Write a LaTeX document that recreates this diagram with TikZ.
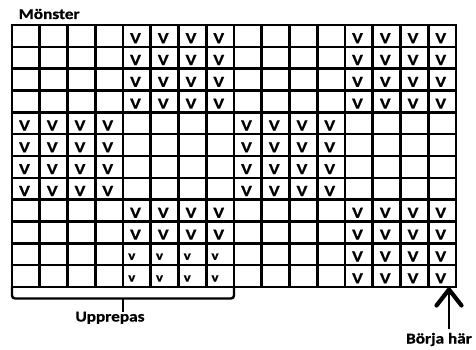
\documentclass[tikz,border=0pt]{standalone}
\usepackage{fontspec}
\setmainfont{Carlito}
\newfontfamily\heavyfont[FakeBold=0.7]{Carlito Bold}
\begin{document}
\begin{tikzpicture}[x=1pt,y=-1pt,
  gridline/.style={line width=2.6pt},
  lbl/.style={font=\fontsize{15}{15}\heavyfont, inner sep=0pt, xscale=1.15, transform shape},
  bigv/.style={font=\fontsize{15.5}{15}\heavyfont, inner sep=0pt, anchor=base, xscale=1.18, transform shape},
  smallv/.style={font=\fontsize{13}{13}\heavyfont, inner sep=0pt, anchor=base west, xscale=1.15, transform shape},
  bracestyle/.style={line width=2.4pt, rounded corners=3pt},
  arrowshaft/.style={line width=2.6pt},
  arrowhead/.style={line width=4.2pt, line cap=round, line join=round}]
\useasboundingbox (0,0) rectangle (476,350);
\def\cw{27.75}
\def\rh{21.83}
% grid lines
\foreach \c in {0,...,16} {
  \draw[gridline] ({12+\c*\cw},25) -- ({12+\c*\cw},{25+12*\rh});
}
\foreach \r in {0,...,12} {
  \draw[gridline] (10.7,{25+\r*\rh}) -- (457.3,{25+\r*\rh});
}
% V marks
\foreach \r in {1,...,12} {
  \foreach \c in {1,...,16} {
    \pgfmathtruncatemacro{\top}{(\r<=4 || \r>=9) ? 1 : 0}
    \pgfmathtruncatemacro{\inA}{(\c>=5 && \c<=8) || (\c>=13) ? 1 : 0}
    \pgfmathtruncatemacro{\inB}{(\c<=4) || (\c>=9 && \c<=12) ? 1 : 0}
    \pgfmathtruncatemacro{\small}{(\r>=11 && \c>=5 && \c<=8) ? 1 : 0}
    \pgfmathtruncatemacro{\big}{((\top==1 && \inA==1) || (\top==0 && \inB==1)) && \small==0 ? 1 : 0}
    \ifnum\big=1
      \node[bigv] (v\r-\c) at ({12+(\c-1)*\cw+12.5},{25+(\r-1)*\rh+18.2}) {V};
    \fi
    \ifnum\small=1
      \node[smallv] (v\r-\c) at ({12+(\c-1)*\cw+5},{25+(\r-1)*\rh+16.5}) {v};
    \fi
  }
}
% title
\node[lbl, anchor=base west] (title) at (18.5,19) {Mönster};
% brace
\coordinate (bl) at (12,{25+12*\rh});
\coordinate (br) at ({12+8*\cw},{25+12*\rh});
\coordinate (bm) at ({12+4*\cw},298.5);
\draw[bracestyle] (bl) -- (12,298.5) -- ({12+8*\cw},298.5) -- (br);
\node[lbl, anchor=base] (rep) at (110,321.5) {Upprepas};
\draw[line width=2.4pt] (bm) -- (bm |- rep.north);
% start arrow
\node[lbl, anchor=base] (start) at (439,343.5) {Börja här};
\coordinate (tip) at (449,289.5);
\draw[arrowshaft] (start.north -| tip) ++(0,-4) -- (tip);
\draw[arrowhead] ([xshift=-12.5pt,yshift=-16pt]tip) -- (tip) -- ([xshift=12.5pt,yshift=-16pt]tip);
\end{tikzpicture}
\end{document}
